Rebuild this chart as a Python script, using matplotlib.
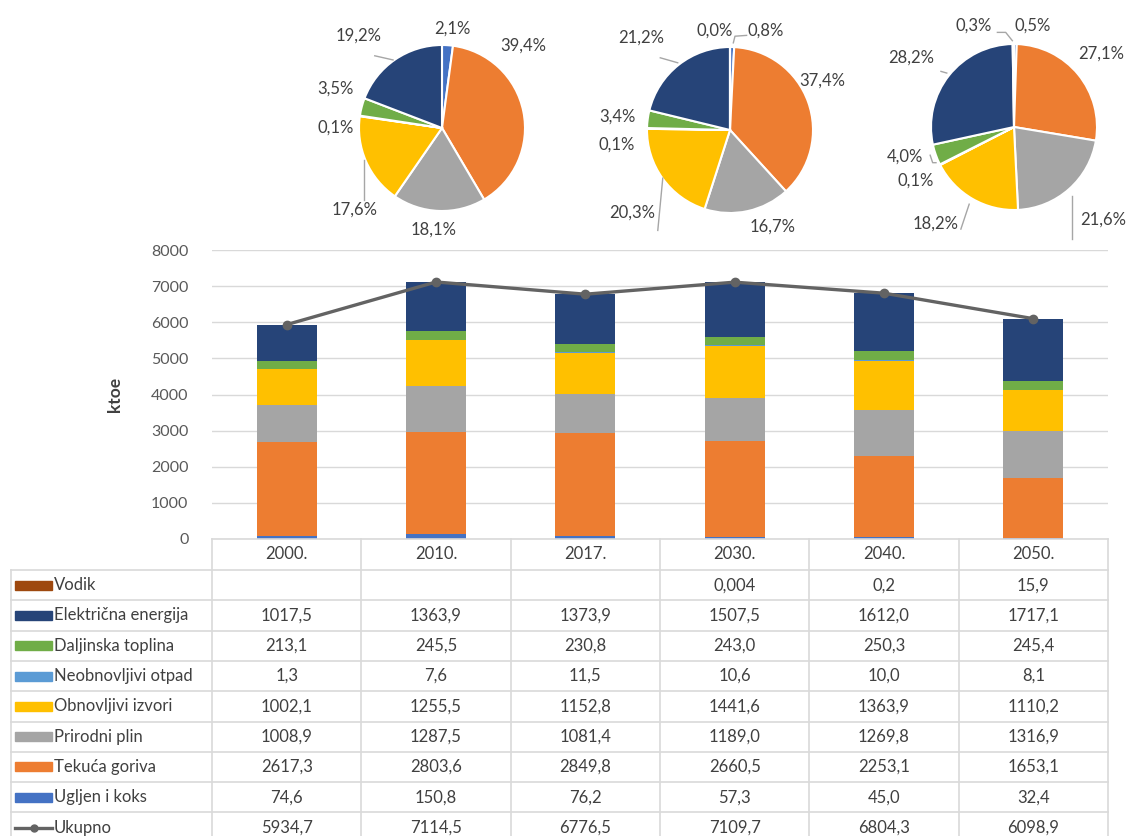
import numpy as np
import matplotlib.pyplot as plt

plt.rcParams['font.family'] = ['Lato', 'DejaVu Sans']

years = ['2000.', '2010.', '2017.', '2030.', '2040.', '2050.']
# bottom -> top of the stack
names = ['Ugljen i koks', 'Tekuća goriva', 'Prirodni plin', 'Obnovljivi izvori',
         'Neobnovljivi otpad', 'Daljinska toplina', 'Električna energija', 'Vodik']
colors = ['#4472C4', '#ED7D31', '#A5A5A5', '#FFC000',
          '#5B9BD5', '#70AD47', '#264478', '#9E480E']

ugljen = [74.6, 150.8, 76.2, 57.3, 45.0, 32.4]
tekuca = [2617.3, 2803.6, 2849.8, 2660.5, 2253.1, 1653.1]
plin = [1008.9, 1287.5, 1081.4, 1189.0, 1269.8, 1316.9]
obnovljivi = [1002.1, 1255.5, 1152.8, 1441.6, 1363.9, 1110.2]
otpad = [1.3, 7.6, 11.5, 10.6, 10.0, 8.1]
toplina = [213.1, 245.5, 230.8, 243.0, 250.3, 245.4]
struja = [1017.5, 1363.9, 1373.9, 1507.5, 1612.0, 1717.1]
vodik = [None, None, None, 0.004, 0.2, 15.9]
ukupno = [5934.7, 7114.5, 6776.5, 7109.7, 6804.3, 6098.9]

series = [ugljen, tekuca, plin, obnovljivi, otpad, toplina, struja, vodik]
pie_years = ['2010.', '2030.', '2050.']

W, H = 1133, 836
fig = plt.figure(figsize=(W / 100, H / 100), dpi=100)
txt_c = '#404040'

def px_axes(x0, y0, x1, y1):
    return fig.add_axes([x0 / W, 1 - y1 / H, (x1 - x0) / W, (y1 - y0) / H])

# ---- stacked bars
ax = px_axes(212, 250, 1108, 539)
x = np.arange(len(years))
bottom = np.zeros(len(years))
for vals, c in zip(series, colors):
    v = np.array([0 if a is None else a for a in vals])
    ax.bar(x, v, 0.4, bottom=bottom, color=c, zorder=2)
    bottom += v
ax.plot(x, ukupno, color='#636363', lw=2.4, marker='o', ms=6, zorder=3)
ax.set_xlim(-0.5, len(years) - 0.5)
ax.set_ylim(0, 8000)
ax.set_yticks(range(0, 8001, 1000))
ax.yaxis.grid(True, color='#D9D9D9', lw=1)
ax.set_xticks([])
ax.tick_params(axis='y', length=0, pad=17, labelsize=11.5, labelcolor='#595959')
for s in ax.spines.values():
    s.set_visible(False)
ax.set_ylabel('ktoe', fontsize=12.5, fontweight='bold', color=txt_c, labelpad=20)

# ---- data table
tb = fig.add_axes([0, 0, 1, 1])
tb.set_xlim(0, W)
tb.set_ylim(H, 0)
tb.axis('off')
tb.patch.set_alpha(0)
grid_c = '#D9D9D9'
col_x = np.linspace(212, 1108, len(years) + 1)
row_top = 570
row_h = 30.3
nrows = len(series) + 1
tb.plot([212, 1108], [539, 539], color=grid_c, lw=1.2)
for cx in col_x:
    tb.plot([cx, cx], [539, H], color=grid_c, lw=1.2)
tb.plot([11, 11], [row_top, H], color=grid_c, lw=1.2)
for i in range(nrows + 1):
    yy = row_top + i * row_h
    if yy < H:
        tb.plot([11, 1108], [yy, yy], color=grid_c, lw=1.2)
for j, yr in enumerate(years):
    tb.text((col_x[j] + col_x[j + 1]) / 2, 554, yr, ha='center', va='center',
            fontsize=12, color=txt_c)

def fmt(v):
    if v is None:
        return ''
    s = f'{v:.3f}' if v < 0.05 else f'{v:.1f}'
    return s.replace('.', ',')

rows = list(zip(names, colors, series))[::-1] + [('Ukupno', '#636363', ukupno)]
for i, (nm, c, vals) in enumerate(rows):
    yc = row_top + (i + 0.5) * row_h
    if nm == 'Ukupno':
        tb.plot([15, 52], [yc, yc], color=c, lw=2.4)
        tb.plot([33.5], [yc], 'o', color=c, ms=5)
    else:
        tb.add_patch(plt.Rectangle((15, yc - 4.5), 37, 9, color=c))
    tb.text(54, yc, nm, ha='left', va='center', fontsize=12, color=txt_c)
    for j, v in enumerate(vals):
        tb.text((col_x[j] + col_x[j + 1]) / 2, yc, fmt(v), ha='center', va='center',
                fontsize=12, color=txt_c)

# ---- pies (2010, 2030, 2050)
R = 83
pie_centers = [(442, 128), (730, 130), (1014, 127)]
# label positions in pie-radius units, same order as names
label_pos = [
    [(0.13, 1.20), (0.98, 0.99), (-0.10, -1.22), (-1.05, -0.98),
     (-1.28, 0.00), (-1.28, 0.48), (-1.01, 1.11), None],
    [(0.43, 1.20), (1.11, 0.60), (0.51, -1.17), (-1.18, -1.00),
     (-1.36, -0.18), (-1.36, 0.16), (-1.07, 1.11), (-0.18, 1.20)],
    [(0.22, 1.22), (1.05, 0.88), (1.08, -1.11), (-0.95, -1.17),
     (-1.18, -0.65), (-1.31, -0.36), (-1.24, 0.84), (-0.49, 1.22)],
]
leaders = [
    [[(-0.81, 0.87), (-0.59, 0.82)], [(-0.94, -0.39), (-0.94, -0.87)]],
    [[(0.04, 1.05), (0.06, 1.13), (0.20, 1.14)], [(-0.84, 0.87), (-0.63, 0.81)],
     [(-0.81, -0.58), (-0.87, -1.21)]],
    [[(-0.20, 1.14), (-0.10, 1.14), (-0.02, 1.04)], [(-0.88, 0.67), (-0.81, 0.65)],
     [(-1.01, -0.34), (-0.98, -0.43), (-0.94, -0.43)],
     [(-0.54, -0.93), (-0.64, -1.23)], [(0.70, -0.83), (0.70, -1.35)]],
]
for (cx, cy), yr, lpos, lead in zip(pie_centers, pie_years, label_pos, leaders):
    j = years.index(yr)
    vals = [s[j] for s in series]
    keep = [k for k, v in enumerate(vals) if v is not None]
    pv = [vals[k] for k in keep]
    tot = sum(pv)
    pa = px_axes(cx - 150, cy - 125, cx + 150, cy + 125)
    pa.pie(pv, colors=[colors[k] for k in keep], startangle=90, counterclock=False,
           wedgeprops=dict(edgecolor='white', linewidth=1.5))
    pa.set_aspect('auto')
    pa.set_xlim(-150 / R, 150 / R)
    pa.set_ylim(-125 / R, 125 / R)
    for seg in lead:
        xs, ys = zip(*seg)
        pa.plot(xs, ys, color='#A6A6A6', lw=1, clip_on=False)
    for k, v in zip(keep, pv):
        lx, ly = lpos[k]
        pa.text(lx, ly, f'{100 * v / tot:.1f}%'.replace('.', ','), ha='center',
                va='center', fontsize=12, color=txt_c)

fig.savefig('out.png', dpi=100)
